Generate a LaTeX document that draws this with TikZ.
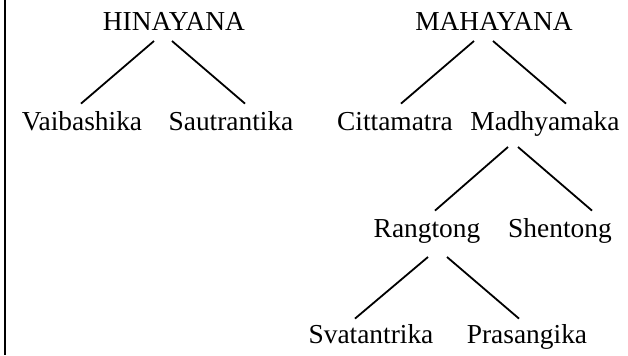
\documentclass[tikz,border=0pt]{standalone}
\usepackage{fontspec}
\setmainfont{Liberation Serif}
\usepackage{tikz}

\begin{document}
\begin{tikzpicture}[x=0.5pt,y=-0.5pt]
    \tikzset{school/.style = {shape=rectangle,draw=none,inner sep=0pt,text height=9pt,text depth=0pt,anchor=base,font=\fontsize{13.7}{16}\selectfont}}
    \tikzset{edge/.style = {-,line width=0.9pt}}

    \useasboundingbox (0,0) rectangle (628,355);
    \draw[line width=1pt] (5,0) -- (5,355);

    % vehicles
    \node[school] (hin) at (174,30) {HINAYANA};
    \node[school] (mah) at (494,30) {MAHAYANA};

    % schools
    \node[school] (vai) at (82,130) {Vaibashika};
    \node[school] (sau) at (231,130) {Sautrantika};
    \node[school] (cit) at (395,130) {Cittamatra};
    \node[school] (mad) at (545,130) {Madhyamaka};

    \node[school] (ran) at (427,237) {Rangtong};
    \node[school] (she) at (560,237) {Shentong};

    \node[school] (sva) at (371,343) {Svatantrika};
    \node[school] (pra) at (527,343) {Prasangika};

    \draw[edge] ([xshift=-10pt,yshift=-5.5pt]hin.base) to ([xshift=-0.5pt,yshift=4pt]vai.north);
    \draw[edge] ([xshift=-1pt,yshift=-5.5pt]hin.base) to ([xshift=7pt,yshift=4pt]sau.north);
    \draw[edge] ([xshift=-10pt,yshift=-5.5pt]mah.base) to ([xshift=3pt,yshift=4pt]cit.north);
    \draw[edge] ([xshift=-0.5pt,yshift=-5.5pt]mah.base) to ([xshift=10.5pt,yshift=4pt]mad.north);
    \draw[edge] ([xshift=-18.5pt,yshift=-8.5pt]mad.base) to ([xshift=4pt,yshift=4pt]ran.north);
    \draw[edge] ([xshift=-13.5pt,yshift=-8.5pt]mad.base) to ([xshift=16pt,yshift=4pt]she.north);
    \draw[edge] ([xshift=0.5pt,yshift=-10pt]ran.base) to ([xshift=-8pt,yshift=3pt]sva.north);
    \draw[edge] ([xshift=10pt,yshift=-10pt]ran.base) to ([xshift=-4pt,yshift=3pt]pra.north);
\end{tikzpicture}
\end{document}
